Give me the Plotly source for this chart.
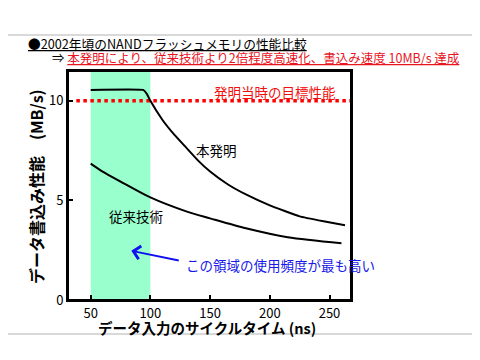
import plotly.graph_objects as go

# ---- data ----
inv_x = [50, 94, 97, 100, 110, 120, 130, 140, 150, 165, 180, 200, 225, 245, 263]
inv_y = [10.55, 10.55, 10.35, 10.0, 9.05, 8.3, 7.65, 7.0, 6.45, 5.8, 5.3, 4.75, 4.2, 3.95, 3.75]

conv_x = [50, 60, 75, 100, 130, 150, 180, 215, 260]
conv_y = [6.85, 6.45, 5.95, 5.15, 4.45, 4.1, 3.6, 3.15, 2.85]

target_x = [38, 268]
target_y = [10, 10]

band_x = [50, 100]

x_ticks = [50, 100, 150, 200, 250]
y_ticks = [0, 5, 10]

FONT = "Noto Sans CJK JP"

fig = go.Figure()

# highlighted band
fig.add_shape(type="rect", xref="x", yref="paper", x0=band_x[0], x1=band_x[1],
              y0=0, y1=1, fillcolor="#99FFCC", line_width=0, layer="below")

fig.add_trace(go.Scatter(x=target_x, y=target_y, mode="lines",
                         line=dict(color="#FF0000", width=3.5, dash="3.5px,3.5px"),
                         hoverinfo="skip"))
fig.add_trace(go.Scatter(x=inv_x, y=inv_y, mode="lines",
                         line=dict(color="black", width=2, shape="spline", smoothing=0.3),
                         hoverinfo="skip"))
fig.add_trace(go.Scatter(x=conv_x, y=conv_y, mode="lines",
                         line=dict(color="black", width=2, shape="spline", smoothing=0.8),
                         hoverinfo="skip"))

# gray separator lines
for py in [1.157, -0.148]:
    fig.add_shape(type="line", xref="paper", yref="paper", x0=-0.25, x1=1.5,
                  y0=py, y1=py, line=dict(color="#CCCCCC", width=1.5))

# plot frame (drawn explicitly so the top edge is always visible)
fig.add_shape(type="rect", xref="paper", yref="paper", x0=0, x1=1, y0=0, y1=1,
              line=dict(color="black", width=2), fillcolor="rgba(0,0,0,0)", layer="above")

ann = []
ann.append(dict(text="<u>●2002年頃のNANDフラッシュメモリの性能比較</u>", xref="paper", yref="paper",
                x=-0.148, y=1.12, xanchor="left", yanchor="middle", showarrow=False,
                font=dict(family=FONT, size=12.7, color="black")))
ann.append(dict(text="⇒ <span style='color:#E8141E'><u>本発明により、従来技術より2倍程度高速化、書込み速度 10MB/s 達成</u></span>",
                xref="paper", yref="paper", x=-0.064, y=1.059, xanchor="left", yanchor="middle",
                showarrow=False, font=dict(family=FONT, size=12.5, color="black")))
ann.append(dict(text="発明当時の目標性能", x=204.5, y=10.45, xanchor="center", yanchor="middle",
                showarrow=False, font=dict(family=FONT, size=13.5, color="#F01010")))
ann.append(dict(text="本発明", x=155, y=7.55, xanchor="center", yanchor="middle",
                showarrow=False, font=dict(family=FONT, size=13.5, color="black")))
ann.append(dict(text="従来技術", x=88, y=4.2, xanchor="center", yanchor="middle",
                showarrow=False, font=dict(family=FONT, size=13.5, color="black")))
ann.append(dict(text="", x=84, y=2.47, ax=125, ay=1.97, axref="x", ayref="y",
                showarrow=True, arrowhead=4, arrowsize=1.3, arrowwidth=2, arrowcolor="#1010F0"))
ann.append(dict(text="この領域の使用頻度が最も高い", x=128, y=1.75, xanchor="left", yanchor="middle",
                showarrow=False, font=dict(family=FONT, size=13.5, color="#1818E8")))
ann.append(dict(text="<b>データ入力のサイクルタイム (ns)</b>", xref="paper", yref="paper",
                x=0.491, y=-0.118, xanchor="center", yanchor="middle", showarrow=False,
                font=dict(family=FONT, size=14.5, color="black")))
ann.append(dict(text="<b>データ書込み性能　(MB/s)</b>", xref="paper", yref="paper",
                x=-0.113, y=0.493, xanchor="center", yanchor="middle", showarrow=False, textangle=-90,
                font=dict(family=FONT, size=16, color="black")))

fig.update_layout(
    width=480, height=360,
    margin=dict(l=60, r=137, t=63, b=68),
    paper_bgcolor="white", plot_bgcolor="white",
    showlegend=False,
    annotations=ann,
    xaxis=dict(range=[31, 268], tickvals=x_ticks, ticks="inside", ticklen=5, tickwidth=1.5,
               tickcolor="black", showgrid=False, zeroline=False, showline=True,
               linecolor="black", linewidth=2, mirror=True,
               tickfont=dict(family=FONT, size=13, color="black")),
    yaxis=dict(range=[0, 11.5], tickvals=y_ticks, ticks="inside", ticklen=5, tickwidth=1.5,
               tickcolor="black", showgrid=False, zeroline=False, showline=True,
               linecolor="black", linewidth=2, mirror=True,
               tickfont=dict(family=FONT, size=13, color="black")),
)

fig.write_html("out.html")
